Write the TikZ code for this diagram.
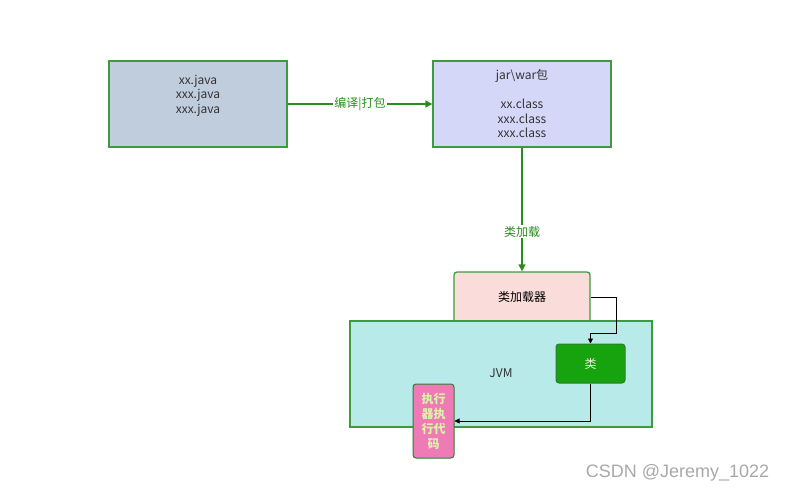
\documentclass[tikz,border=0pt]{standalone}
\usepackage{fontspec}
\setmainfont{Noto Sans CJK SC}
\newfontfamily\wmfont{Liberation Sans}
\usepackage{xcolor}
\usetikzlibrary{arrows.meta}
\definecolor{edge}{HTML}{3D9A3D}
\definecolor{flow}{HTML}{2A8C1E}
\definecolor{ink}{HTML}{333333}
\definecolor{srcbg}{HTML}{BFCDDC}
\definecolor{jarbg}{HTML}{D4D7F7}
\definecolor{loadbg}{HTML}{FADCDA}
\definecolor{jvmbg}{HTML}{B8EAEA}
\definecolor{clsbg}{HTML}{16A30E}
\definecolor{clstext}{HTML}{E8F5D8}
\definecolor{execbg}{HTML}{EE7AB6}
\definecolor{exectext}{HTML}{DDF2A8}
\definecolor{mark}{HTML}{A8A8A8}
\tikzset{
  box/.style={draw=edge, line width=1.3pt, text=ink, align=center, inner sep=0pt,
    font=\fontsize{12}{14.5}\selectfont},
  rbox/.style={box, rounded corners=3pt},
  txt/.style={align=center, font=\fontsize{12}{14.5}\selectfont},
  flowline/.style={draw=flow, line width=1.4pt, -{Triangle[length=7pt,width=7pt]}},
  flowlab/.style={fill=white, text=flow, inner sep=1pt, font=\fontsize{12}{14}\selectfont},
  callline/.style={draw=black, line width=0.8pt, -{Triangle[length=5pt,width=5pt]}}
}
\begin{document}
\begin{tikzpicture}[x=1pt, y=-1pt]
  \useasboundingbox (0,0) rectangle (788,492);
  % sources and package
  \node[box, fill=srcbg, minimum width=178pt, minimum height=86pt] (src) at (198,104) {};
  \node[txt, text=ink] (srctxt) at (198,95.5) {xx.java\\xxx.java\\xxx.java};
  \node[box, fill=jarbg, minimum width=178pt, minimum height=86pt] (jar) at (522,104)
    {jar\textbackslash war包\\[14.5pt]xx.class\\xxx.class\\xxx.class};
  \draw[flowline] (src.east) -- node[flowlab] {编译|打包} (jar.west);
  % loader and jvm
  \node[rbox, fill=loadbg, minimum width=136pt, minimum height=56pt] (loader) at (522,300)
    {};
  \node[txt, text=black] (loadtxt) at (522,297) {类加载器};
  \node[box, fill=jvmbg, minimum width=302pt, minimum height=106pt] (jvm) at (501,374) {};
  \node[txt, text=ink] (jvmtxt) at (501,373) {JVM};
  \draw[flowline] (jar.south) -- node[flowlab, pos=0.68] {类加载} (loader.north);
  \node[rbox, draw=edge!80!black, line width=1pt, fill=clsbg, text=clstext,
    minimum width=69pt, minimum height=39pt] (cls) at (590.5,363.5) {类};
  \node[rbox, draw=edge!80!black, line width=1pt, fill=execbg, text=exectext,
    minimum width=41pt, minimum height=74pt,
    font=\bfseries\fontsize{12}{15}\selectfont] (exec) at (433.5,421)
    {执行\\器执\\行代\\码};
  \coordinate (t1) at (616,297);
  \coordinate (t2) at (616,333);
  \coordinate (t3) at (590.5,333);
  \coordinate (t4) at (590.5,421);
  \draw[callline] (loader.east |- t1) -- (t1) -- (t2) -- (t3) -- (cls.north);
  \draw[callline] (cls.south) -- (t4) -- (exec.east |- t4);
  \node[text=mark, font=\wmfont\fontsize{18}{20}\selectfont] (wm) at (677.5,473)
    {CSDN @Jeremy\_1022};
\end{tikzpicture}
\end{document}
